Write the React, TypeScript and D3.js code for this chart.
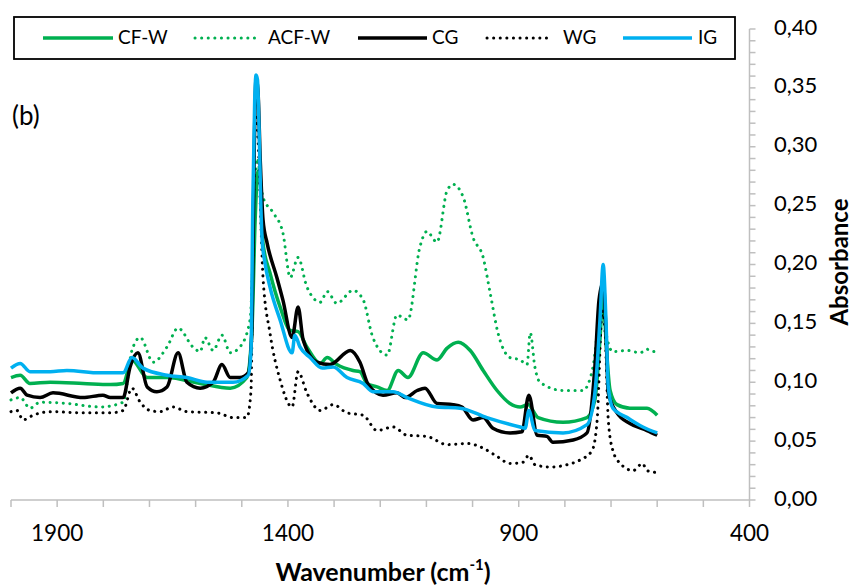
import React from "react";
import * as d3 from "d3";

const W = 855;
const H = 587;

const xTickLabels = [1900, 1400, 900, 400];
const xMinorTicks = d3.range(2000, 399, -100);
const yTickLabels = [0, 0.05, 0.1, 0.15, 0.2, 0.25, 0.3, 0.35, 0.4];
const yMinorTicks = d3.range(0, 0.4001, 0.01);

const seriesNames = ["CF-W", "ACF-W", "CG", "WG", "IG"];

// CF-W (green solid)
const cfwWave = [2000, 1980, 1959, 1915, 1844, 1785, 1757, 1738, 1705, 1662, 1590, 1525, 1489, 1478, 1471, 1465, 1460, 1454, 1439, 1417, 1395, 1378, 1359, 1330, 1315, 1294, 1259, 1244, 1229, 1207, 1185, 1161, 1140, 1107, 1077, 1055, 1031, 1005, 977, 947, 919, 897, 880, 858, 804, 752, 735, 724, 717, 711, 702, 687, 659, 622, 600];
const cfwAbs = [0.104, 0.106, 0.099, 0.1, 0.099, 0.098, 0.099, 0.119, 0.104, 0.104, 0.099, 0.095, 0.104, 0.144, 0.238, 0.279, 0.272, 0.218, 0.193, 0.164, 0.144, 0.143, 0.13, 0.116, 0.121, 0.115, 0.11, 0.109, 0.099, 0.096, 0.093, 0.11, 0.104, 0.125, 0.119, 0.129, 0.134, 0.127, 0.11, 0.093, 0.082, 0.079, 0.081, 0.07, 0.066, 0.07, 0.085, 0.136, 0.178, 0.136, 0.093, 0.081, 0.078, 0.078, 0.072];

// ACF-W (green dotted)
const acfwWave = [2000, 1980, 1959, 1937, 1879, 1807, 1757, 1738, 1720, 1692, 1662, 1638, 1606, 1590, 1580, 1562, 1543, 1525, 1504, 1482, 1473, 1467, 1454, 1432, 1411, 1395, 1378, 1359, 1330, 1315, 1294, 1259, 1237, 1216, 1185, 1164, 1140, 1114, 1099, 1077, 1055, 1042, 1020, 999, 977, 962, 945, 919, 897, 882, 875, 865, 854, 804, 761, 739, 728, 717, 709, 696, 665, 637, 622, 609, 600];
const acfwAbs = [0.085, 0.087, 0.078, 0.083, 0.082, 0.079, 0.083, 0.127, 0.138, 0.117, 0.13, 0.146, 0.13, 0.126, 0.138, 0.127, 0.14, 0.125, 0.13, 0.153, 0.238, 0.29, 0.257, 0.244, 0.227, 0.189, 0.206, 0.181, 0.168, 0.177, 0.167, 0.178, 0.17, 0.138, 0.123, 0.157, 0.153, 0.215, 0.228, 0.219, 0.263, 0.268, 0.257, 0.223, 0.206, 0.176, 0.142, 0.121, 0.119, 0.115, 0.142, 0.113, 0.1, 0.093, 0.093, 0.113, 0.147, 0.164, 0.138, 0.126, 0.127, 0.125, 0.128, 0.126, 0.127];

// CG (black solid)
const cgWave = [2000, 1980, 1965, 1937, 1909, 1844, 1801, 1785, 1757, 1742, 1725, 1705, 1684, 1662, 1638, 1619, 1590, 1562, 1543, 1525, 1504, 1486, 1478, 1473, 1469, 1465, 1460, 1454, 1445, 1424, 1411, 1391, 1378, 1367, 1337, 1309, 1265, 1244, 1226, 1194, 1164, 1146, 1120, 1103, 1077, 1042, 1023, 999, 977, 956, 919, 893, 878, 860, 839, 826, 782, 752, 735, 726, 717, 711, 706, 687, 659, 622, 600];
const cgAbs = [0.091, 0.095, 0.089, 0.087, 0.091, 0.087, 0.089, 0.087, 0.087, 0.113, 0.125, 0.096, 0.092, 0.096, 0.125, 0.1, 0.095, 0.1, 0.115, 0.104, 0.104, 0.108, 0.144, 0.297, 0.358, 0.348, 0.289, 0.238, 0.218, 0.189, 0.17, 0.138, 0.164, 0.136, 0.117, 0.115, 0.127, 0.117, 0.098, 0.089, 0.091, 0.087, 0.093, 0.095, 0.082, 0.081, 0.079, 0.068, 0.07, 0.061, 0.057, 0.058, 0.089, 0.055, 0.054, 0.049, 0.051, 0.057, 0.113, 0.17, 0.185, 0.144, 0.091, 0.074, 0.065, 0.059, 0.055];

// WG (black dotted)
const wgWave = [2000, 1987, 1974, 1952, 1915, 1844, 1785, 1757, 1738, 1720, 1699, 1677, 1649, 1619, 1554, 1519, 1489, 1480, 1476, 1471, 1467, 1463, 1458, 1454, 1439, 1417, 1391, 1378, 1359, 1330, 1302, 1272, 1237, 1207, 1172, 1142, 1099, 1055, 1012, 977, 947, 919, 891, 878, 865, 832, 795, 767, 741, 730, 719, 713, 706, 696, 680, 652, 632, 622, 611, 600];
const wgAbs = [0.075, 0.076, 0.068, 0.072, 0.075, 0.074, 0.074, 0.076, 0.095, 0.083, 0.076, 0.075, 0.079, 0.075, 0.074, 0.07, 0.07, 0.093, 0.212, 0.314, 0.325, 0.289, 0.229, 0.189, 0.142, 0.102, 0.079, 0.109, 0.091, 0.076, 0.081, 0.074, 0.072, 0.059, 0.062, 0.055, 0.054, 0.047, 0.048, 0.044, 0.037, 0.031, 0.032, 0.038, 0.03, 0.028, 0.03, 0.034, 0.042, 0.068, 0.161, 0.144, 0.068, 0.042, 0.031, 0.025, 0.031, 0.025, 0.024, 0.023];

// IG (blue solid)
const igWave = [2000, 1980, 1959, 1915, 1879, 1807, 1757, 1738, 1714, 1662, 1619, 1575, 1519, 1486, 1480, 1476, 1472, 1469, 1466, 1463, 1459, 1456, 1450, 1439, 1417, 1391, 1385, 1374, 1352, 1326, 1302, 1272, 1237, 1216, 1172, 1142, 1077, 1027, 969, 897, 886, 878, 865, 804, 752, 735, 724, 717, 711, 706, 696, 665, 631, 600];
const igAbs = [0.112, 0.116, 0.109, 0.109, 0.11, 0.108, 0.108, 0.121, 0.112, 0.106, 0.104, 0.1, 0.1, 0.106, 0.127, 0.255, 0.34, 0.361, 0.357, 0.323, 0.255, 0.221, 0.202, 0.181, 0.153, 0.125, 0.14, 0.13, 0.121, 0.112, 0.113, 0.104, 0.099, 0.092, 0.092, 0.087, 0.079, 0.078, 0.07, 0.062, 0.061, 0.076, 0.059, 0.057, 0.064, 0.091, 0.153, 0.2, 0.153, 0.096, 0.078, 0.07, 0.062, 0.057];

const GREEN = "#00B050";
const BLUE = "#00B0F0";
const BLACK = "#000000";
const AXIS = "#bfbfbf";
const FONT = "Lato, 'Open Sans', sans-serif";

const series = [
  { name: seriesNames[0], wave: cfwWave, abs: cfwAbs, color: GREEN, dotted: false },
  { name: seriesNames[1], wave: acfwWave, abs: acfwAbs, color: GREEN, dotted: true },
  { name: seriesNames[2], wave: cgWave, abs: cgAbs, color: BLACK, dotted: false },
  { name: seriesNames[3], wave: wgWave, abs: wgAbs, color: BLACK, dotted: true },
  { name: seriesNames[4], wave: igWave, abs: igAbs, color: BLUE, dotted: false },
];

// legend layout: line start, line end, text start
const legendLayout = [
  [43, 113, 118],
  [195, 258, 268],
  [358, 427, 432],
  [487, 548, 563],
  [623, 692, 698],
];

export default function App() {
  const x = d3.scaleLinear().domain([2000, 400]).range([11, 749.5]);
  const y = d3.scaleLinear().domain([0, 0.4]).range([500, 29]);
  const fmt = (v: number) => d3.format(".2f")(v).replace(".", ",");

  const line = d3
    .line<[number, number]>()
    .x((d) => x(d[0]))
    .y((d) => y(d[1]))
    .curve(d3.curveMonotoneX);

  return (
    <svg
      width={W}
      height={H}
      style={{ position: "absolute", left: 0, top: 0, background: "#fff" }}
      fontFamily={FONT}
    >
      <rect x={0} y={0} width={W} height={H} fill="#fff" />

      {/* x axis */}
      <line x1={x(2000)} x2={x(400)} y1={y(0)} y2={y(0)} stroke={AXIS} strokeWidth={1.5} />
      {xMinorTicks.map((t) => (
        <line key={"xt" + t} x1={x(t)} x2={x(t)} y1={y(0)} y2={y(0) + 7} stroke={AXIS} strokeWidth={1.5} />
      ))}
      {xTickLabels.map((t) => (
        <text key={"xl" + t} x={x(t)} y={535} textAnchor="middle" dominantBaseline="middle" fontSize={22.5} fill="#000">
          {t}
        </text>
      ))}
      <text x={383} y={575} textAnchor="middle" dominantBaseline="middle" fontSize={25} fontWeight="bold" fill="#000">
        Wavenumber (cm
        <tspan fontSize={15} dy={-9}>-1</tspan>
        <tspan dy={9}>)</tspan>
      </text>

      {/* y axis (right) */}
      <line x1={x(400)} x2={x(400)} y1={y(0)} y2={y(0.4)} stroke={AXIS} strokeWidth={1.5} />
      {yMinorTicks.map((t, i) => (
        <line key={"yt" + i} x1={x(400)} x2={x(400) + 6} y1={y(t)} y2={y(t)} stroke={AXIS} strokeWidth={1.5} />
      ))}
      {yTickLabels.map((t) => (
        <text key={"yl" + t} x={774} y={y(t)} textAnchor="start" dominantBaseline="middle" fontSize={22} fill="#000">
          {fmt(t)}
        </text>
      ))}
      <text
        transform={`translate(842, 262) rotate(-90)`}
        textAnchor="middle"
        dominantBaseline="middle"
        fontSize={24}
        fontWeight="bold"
        fill="#000"
      >
        Absorbance
      </text>

      {/* series */}
      {series.map((s) => {
        const pts: [number, number][] = s.wave.map((w, i) => [w, s.abs[i]]);
        return (
          <path
            key={s.name}
            d={line(pts) || ""}
            fill="none"
            stroke={s.color}
            strokeWidth={s.dotted ? 3 : 3.5}
            strokeLinejoin="round"
            strokeLinecap={s.dotted ? "round" : "butt"}
            strokeDasharray={s.dotted ? "0.1 6.5" : undefined}
          />
        );
      })}

      <text x={12} y={118} dominantBaseline="middle" fontSize={26} fill="#000">
        (b)
      </text>

      {/* legend */}
      <rect x={14} y={17} width={721} height={42} fill="#fff" stroke="#000" strokeWidth={1.8} />
      {series.map((s, i) => {
        const [a, b, t] = legendLayout[i];
        return (
          <g key={"lg" + s.name}>
            <line
              x1={a}
              x2={b}
              y1={38}
              y2={38}
              stroke={s.color}
              strokeWidth={s.dotted ? 3 : 3.5}
              strokeLinecap={s.dotted ? "round" : "butt"}
              strokeDasharray={s.dotted ? "0.1 6.5" : undefined}
            />
            <text x={t} y={39} dominantBaseline="middle" fontSize={19} fill="#000">
              {s.name}
            </text>
          </g>
        );
      })}
    </svg>
  );
}
